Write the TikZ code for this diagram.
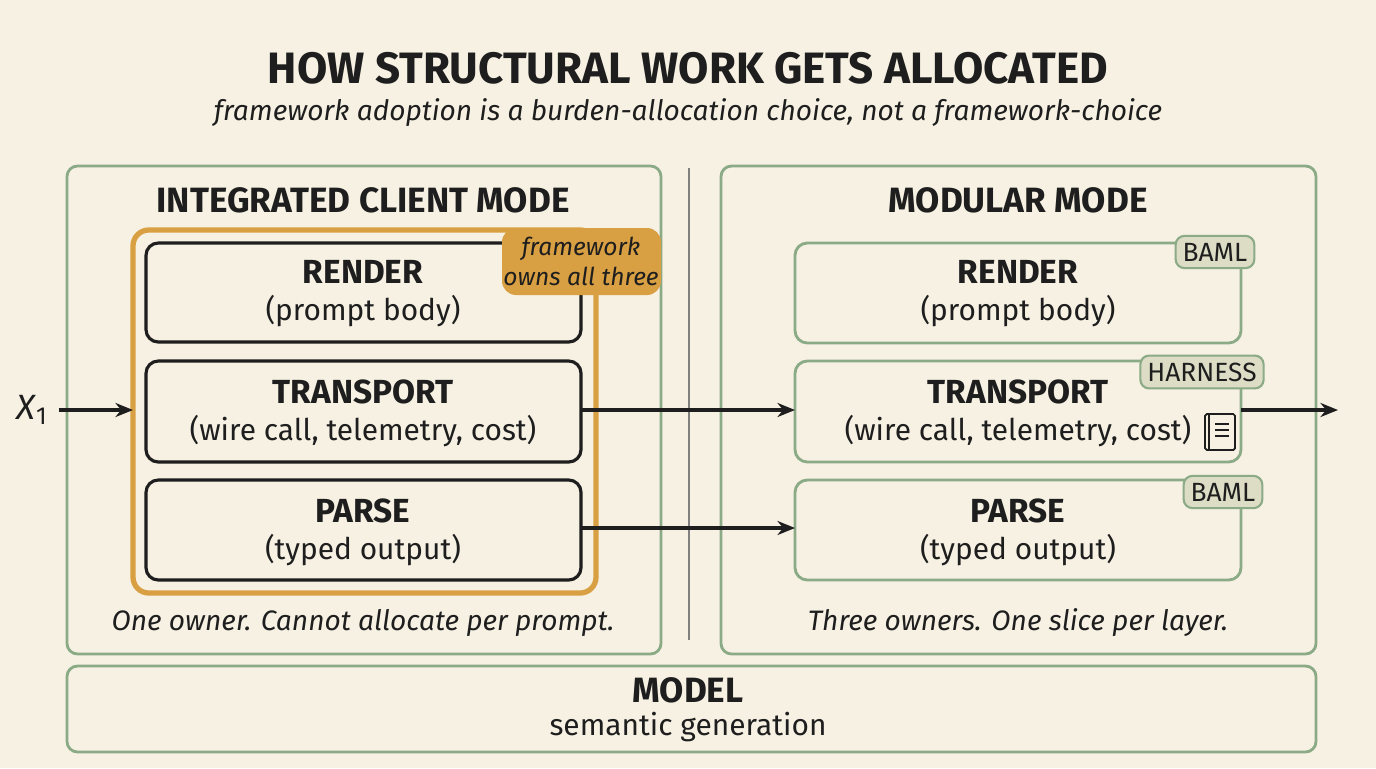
\documentclass[tikz,border=0pt]{standalone}
\usepackage{fontspec}
\setmainfont{Fira Sans}
\usetikzlibrary{arrows.meta}
\definecolor{bg}{HTML}{F6F1E3}
\definecolor{grn}{HTML}{8BAA86}
\definecolor{org}{HTML}{D9A043}
\definecolor{tagf}{HTML}{DDDDC6}
\definecolor{ink}{HTML}{1E1E1E}
\newcommand\bhx{\fontsize{19}{21}\selectfont\bfseries}
\begin{document}
\begin{tikzpicture}[x=0.02cm,y=-0.02cm,
  panel/.style={draw=grn,line width=1.6pt,rounded corners=6pt},
  lbox/.style={draw=ink,line width=1.8pt,rounded corners=7pt,fill=bg},
  rbox/.style={draw=grn,line width=1.6pt,rounded corners=7pt,fill=bg},
  tag/.style={draw=grn,line width=1.2pt,rounded corners=5pt,fill=tagf,font=\fontsize{15}{17}\selectfont,text=ink,inner sep=4pt},
  hd/.style={font=\fontsize{20}{24}\selectfont\bfseries,text=ink},
  bt/.style={font=\fontsize{17}{21}\selectfont,text=ink,align=center},
  ft/.style={font=\fontsize{16}{21}\selectfont\itshape,text=ink},
  arr/.style={-{Stealth[length=10pt,width=8pt]},line width=1.9pt,draw=ink}]
\fill[bg] (0,0) rectangle (1376,768);
\useasboundingbox (0,0) rectangle (1376,768);
\node[font=\fontsize{25}{30}\selectfont\bfseries,text=ink] (title) at (688,68) {HOW STRUCTURAL WORK GETS ALLOCATED};
\node[font=\fontsize{16}{23}\selectfont\itshape,text=ink] (sub) at (688,113) {framework adoption is a burden-allocation choice, not a framework-choice};
\draw[panel] (67,166) rectangle (661,654);
\draw[panel] (721,166) rectangle (1316,654);
\draw[gray,line width=0.8pt] (689,168) -- (689,640);
\draw[panel] (67,666) rectangle (1316,752);
\node[hd] (model) at (688,690) {MODEL};
\node[bt] (sem) at (688,727) {semantic generation};
\node[hd] (lh) at (363,200) {INTEGRATED CLIENT MODE};
\node[hd] (rh) at (1018,200) {MODULAR MODE};
\draw[org,line width=3pt,rounded corners=9pt] (133,230) rectangle (596,593);
\draw[lbox] (146,243) rectangle (581,342);
\draw[lbox] (146,361) rectangle (581,462);
\draw[lbox] (146,480) rectangle (581,580);
\node[bt] (lr) at (363,294) {{\bhx RENDER}\\(prompt body)};
\node[bt] (lt) at (363,413) {{\bhx TRANSPORT}\\(wire call, telemetry, cost)};
\node[bt] (lp) at (363,532) {{\bhx PARSE}\\(typed output)};
\fill[org,rounded corners=8pt] (502,228) rectangle (661,295);
\node[align=center,font=\fontsize{14}{17}\selectfont\itshape,text=ink] (own) at (581,261) {framework\\owns all three};
\draw[rbox] (795,243) rectangle (1241,343);
\draw[rbox] (795,361) rectangle (1241,462);
\draw[rbox] (795,480) rectangle (1241,580);
\node[bt] (rr) at (1018,294) {{\bhx RENDER}\\(prompt body)};
\node[bt] (rt) at (1018,413) {{\bhx TRANSPORT}\\(wire call, telemetry, cost)};
\node[bt] (rp) at (1018,532) {{\bhx PARSE}\\(typed output)};
\node[tag] (t1) at (1215,252) {BAML};
\node[tag] (t2) at (1202,372) {HARNESS};
\node[tag] (t3) at (1223,492) {BAML};
% book icon
\draw[ink,line width=1pt,rounded corners=1pt] (1205,414) rectangle (1235,450);
\draw[ink,line width=1pt] (1209,414) -- (1209,450);
\draw[ink,line width=0.8pt] (1215,424)--(1229,424) (1215,430)--(1229,430) (1215,436)--(1229,436);
\node[ft] (lf) at (363,623) {One owner. Cannot allocate per prompt.};
\node[ft] (rf) at (1018,623) {Three owners. One slice per layer.};
\node[font=\fontsize{20}{24}\selectfont,text=ink,inner sep=1pt] (x1) at (32,410) {\textit{X}\textsubscript{1}};
\coordinate (lin) at (133,410);
\coordinate (rout) at (1338,410);
\draw[arr,shorten <=5pt] (x1.east) -- (lin);
\draw[arr] (581,410) -- (795,410);
\draw[arr] (581,528) -- (795,528);
\draw[arr] (1241,410) -- (rout);
\end{tikzpicture}
\end{document}
